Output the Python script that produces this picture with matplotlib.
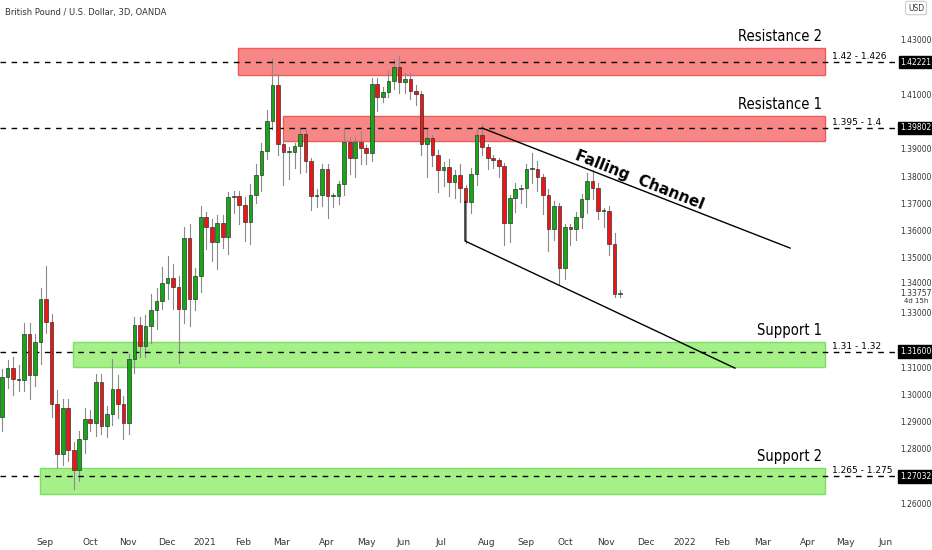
import matplotlib.pyplot as plt
from matplotlib.patches import Rectangle

# GBP/USD 3D candles, Aug 2020 - Nov 2021
first_open = 1.2920
closes = [1.3067, 1.3100, 1.3060, 1.3055, 1.3225, 1.3075, 1.3195, 1.3353, 1.3270, 1.2970,
          1.2785, 1.2955, 1.2800, 1.2727, 1.2840, 1.2915, 1.2900, 1.3050, 1.2887, 1.2930,
          1.3025, 1.2967, 1.2900, 1.3133, 1.3258, 1.3180, 1.3253, 1.3313, 1.3345, 1.3412,
          1.3430, 1.3397, 1.3317, 1.3577, 1.3353, 1.3438, 1.3654, 1.3617, 1.3562, 1.3632,
          1.3580, 1.3727, 1.3731, 1.3698, 1.3635, 1.3735, 1.3808, 1.3896, 1.4006, 1.4138,
          1.3922, 1.3892, 1.3892, 1.3914, 1.3958, 1.3859, 1.3731, 1.3735, 1.3830, 1.3731,
          1.3731, 1.3775, 1.3929, 1.3870, 1.3929, 1.3907, 1.3888, 1.4142, 1.4094, 1.4112,
          1.4153, 1.4204, 1.4149, 1.4160, 1.4116, 1.4105, 1.3922, 1.3943, 1.3881, 1.3826,
          1.3837, 1.3782, 1.3808, 1.3760, 1.3709, 1.3812, 1.3955, 1.3910, 1.3870, 1.3862,
          1.3841, 1.3632, 1.3724, 1.3757, 1.3760, 1.3830, 1.3830, 1.3801, 1.3735, 1.3610,
          1.3694, 1.3467, 1.3617, 1.3610, 1.3654, 1.3720, 1.3786, 1.3760, 1.3676, 1.3676,
          1.3555, 1.3370, 1.3376]
wick_up = [0.003, 0.003, 0.004, 0.005, 0.004, 0.004, 0.003, 0.004, 0.012, 0.003,
           0.005, 0.003, 0.003, 0.003, 0.003, 0.004, 0.003, 0.003, 0.003, 0.003,
           0.011, 0.005, 0.003, 0.002, 0.003, 0.003, 0.004, 0.006, 0.005, 0.006,
           0.008, 0.005, 0.004, 0.004, 0.005, 0.003, 0.004, 0.002, 0.003, 0.003,
           0.003, 0.002, 0.002, 0.002, 0.003, 0.004, 0.004, 0.003, 0.004, 0.010,
           0.004, 0.002, 0.002, 0.001, 0.002, 0.002, 0.001, 0.002, 0.002, 0.002,
           0.001, 0.001, 0.005, 0.002, 0.002, 0.004, 0.001, 0.002, 0.002, 0.002,
           0.004, 0.003, 0.004, 0.002, 0.002, 0.002, 0.001, 0.003, 0.001, 0.002,
           0.002, 0.003, 0.002, 0.004, 0.001, 0.002, 0.002, 0.004, 0.001, 0.001,
           0.001, 0.001, 0.001, 0.002, 0.001, 0.002, 0.006, 0.003, 0.001, 0.002,
           0.002, 0.001, 0.001, 0.001, 0.002, 0.002, 0.003, 0.004, 0.002, 0.001,
           0.002, 0.004, 0.001]
wick_dn = [0.005, 0.004, 0.006, 0.004, 0.004, 0.009, 0.004, 0.008, 0.004, 0.005,
           0.005, 0.004, 0.004, 0.007, 0.004, 0.005, 0.003, 0.005, 0.003, 0.004,
           0.004, 0.005, 0.006, 0.004, 0.005, 0.004, 0.004, 0.006, 0.007, 0.003,
           0.006, 0.008, 0.020, 0.005, 0.010, 0.004, 0.006, 0.008, 0.007, 0.010,
           0.004, 0.006, 0.006, 0.007, 0.007, 0.008, 0.003, 0.006, 0.003, 0.003,
           0.004, 0.012, 0.010, 0.006, 0.010, 0.004, 0.005, 0.004, 0.004, 0.008,
           0.004, 0.003, 0.004, 0.006, 0.007, 0.006, 0.004, 0.003, 0.005, 0.002,
           0.002, 0.003, 0.004, 0.004, 0.003, 0.004, 0.004, 0.012, 0.004, 0.008,
           0.006, 0.005, 0.006, 0.005, 0.015, 0.004, 0.004, 0.003, 0.004, 0.003,
           0.004, 0.008, 0.007, 0.005, 0.005, 0.007, 0.005, 0.005, 0.007, 0.008,
           0.004, 0.006, 0.004, 0.006, 0.004, 0.004, 0.005, 0.004, 0.003, 0.006,
           0.004, 0.001, 0.001]

month_labels = ['Sep', 'Oct', 'Nov', 'Dec', '2021', 'Feb', 'Mar', 'Apr', 'May', 'Jun', 'Jul',
                'Aug', 'Sep', 'Oct', 'Nov', 'Dec', '2022', 'Feb', 'Mar', 'Apr', 'May', 'Jun']
month_pos = [7.8, 16.0, 22.8, 29.9, 36.8, 43.7, 50.7, 58.9, 66.1, 72.8, 79.5,
             87.9, 94.9, 102.0, 109.4, 116.7, 123.7, 130.4, 137.9, 146.0, 152.9, 160.0]

# zones: (label, range text, x start idx, low, high, level, colour)
zones = [('Resistance 2', '1.42 - 1.426', 42.8, 1.4175, 1.4272, 1.42221, 'red'),
         ('Resistance 1', '1.395 - 1.4', 50.9, 1.3932, 1.4024, 1.39802, 'red'),
         ('Support 1', '1.31 - 1.32', 12.9, 1.3104, 1.3196, 1.31600, 'green'),
         ('Support 2', '1.265 - 1.275', 6.9, 1.2638, 1.2734, 1.27032, 'green')]
zone_end = 149.1
upper_line_x, upper_line_y = [87.0, 142.8], [1.3980, 1.3540]
lower_line_x, lower_line_y = [83.9, 83.9, 132.8], [1.3709, 1.3566, 1.3100]
yticks = [1.26, 1.27, 1.28, 1.29, 1.30, 1.31, 1.33, 1.35, 1.36, 1.37,
          1.38, 1.39, 1.41, 1.43]
last_price = 1.33757

fig = plt.figure(figsize=(9.32, 5.5), dpi=100)
ax = fig.add_axes([0, 20 / 550, 1, 530 / 550])
ax.set_xlim(-0.36, 168.5)
ax.set_ylim(1.25066, 1.44494)
for s in ax.spines.values():
    s.set_visible(False)
ax.set_yticks([])
ax.set_xticks(month_pos)
ax.set_xticklabels(month_labels, fontsize=6.5, color='#333333')
ax.tick_params(axis='x', length=0, pad=6)
ax.axhline(1.25066, color='#cccccc', lw=0.8)

# zones
for name, rng, x0, lo, hi, lvl, col in zones:
    fc = '#f78787' if col == 'red' else '#a6f08a'
    ec = '#f05a5a' if col == 'red' else '#7ee05e'
    ax.add_patch(Rectangle((x0, lo), zone_end - x0, hi - lo, facecolor=fc,
                           edgecolor=ec, lw=1, zorder=1))
    ax.plot([-0.36, 163.5], [lvl, lvl], color='black', lw=1, ls=(0, (4, 4)), zorder=3)
    ax.text(zone_end - 0.5, hi + 0.0015, name, fontsize=10.5, ha='right', va='bottom',
            family='DejaVu Sans', zorder=5, stretch='condensed')
    ax.text(zone_end + 1.3, lvl + 0.0004, rng, fontsize=6.5, ha='left', va='bottom', zorder=5)
    ax.text(165.6, lvl, f'{lvl:.5f}', fontsize=5.5, color='white', ha='center', va='center',
            bbox=dict(boxstyle='square,pad=0.25', fc='black', ec='black'), zorder=6)

# candles
opens = [first_open] + closes[:-1]
for i, (o, c) in enumerate(zip(opens, closes)):
    hi = max(o, c) + wick_up[i]
    lo = min(o, c) - wick_dn[i]
    ax.plot([i, i], [lo, hi], color='#8a8a8a', lw=0.8, zorder=2)
    col = '#14a814' if c >= o else '#f01414'
    h = max(abs(c - o), 0.0003)
    ax.add_patch(Rectangle((i - 0.33, min(o, c)), 0.66, h, facecolor=col,
                           edgecolor='#333333', lw=0.5, zorder=4))

# falling channel
ax.plot(upper_line_x, upper_line_y, color='black', lw=1, zorder=5)
ax.plot(lower_line_x, lower_line_y, color='black', lw=1, zorder=5)
ax.text(115.5, 1.3788, 'Falling  Channel', fontsize=11, fontweight='bold', rotation=-21.5,
        ha='center', va='center', zorder=6)

# price scale
for t in yticks:
    ax.text(165.6, t, f'{t:.5f}', fontsize=5.5, color='#333333', ha='center', va='center')
ax.text(165.6, 1.3412, '1.34000', fontsize=5.5, color='#333333', ha='center', va='center')
ax.text(165.6, 1.3373, f'{last_price:.5f}', fontsize=5.5, color='#333333', ha='center', va='center')
ax.text(165.6, 1.3345, '4d 15h', fontsize=5, color='#333333', ha='center', va='center')
ax.text(165.6, 1.4420, 'USD', fontsize=5.5, color='#333333', ha='center', va='center',
        bbox=dict(boxstyle='round,pad=0.3', fc='white', ec='#bbbbbb', lw=0.6))

fig.text(0.005, 0.985, 'British Pound / U.S. Dollar, 3D, OANDA', fontsize=6, color='#333333',
         ha='left', va='top')
fig.savefig('out.png', dpi=100)
